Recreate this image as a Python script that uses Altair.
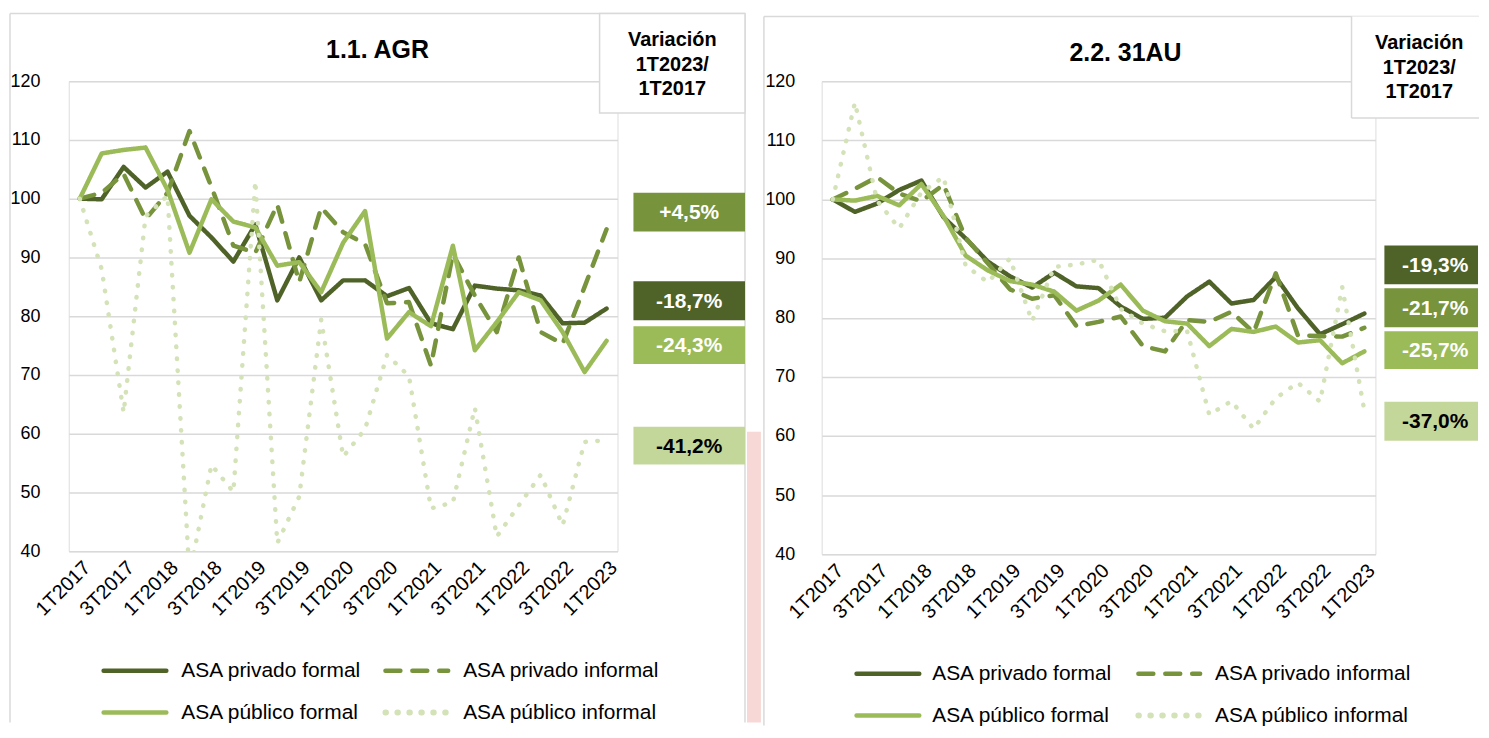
import altair as alt
import pandas as pd

# ---------------- data ----------------
quarters = ["1T2017", "2T2017", "3T2017", "4T2017", "1T2018", "2T2018", "3T2018", "4T2018",
            "1T2019", "2T2019", "3T2019", "4T2019", "1T2020", "2T2020", "3T2020", "4T2020",
            "1T2021", "2T2021", "3T2021", "4T2021", "1T2022", "2T2022", "3T2022", "4T2022",
            "1T2023"]
tick_labels = ["1T2017", "3T2017", "1T2018", "3T2018", "1T2019", "3T2019", "1T2020",
               "3T2020", "1T2021", "3T2021", "1T2022", "3T2022", "1T2023"]
y_ticks = [40, 50, 60, 70, 80, 90, 100, 110, 120]

series_names = ["ASA privado formal", "ASA privado informal", "ASA público formal", "ASA público informal"]

agr_priv_formal = [100, 99.9, 105.4, 101.9, 104.6, 97.1, 93.4, 89.3, 95.6, 82.7, 90.0, 82.7, 86.1,
                   86.1, 83.4, 84.8, 78.8, 77.8, 85.2, 84.7, 84.4, 83.5, 78.8, 78.9, 81.3]
agr_priv_informal = [100, 101.0, 104.2, 96.5, 101.0, 111.5, 102.0, 92.0, 90.8, 99.0, 85.8, 98.5, 94.3,
                     92.3, 82.2, 82.4, 71.6, 90.6, 83.5, 77.3, 90.0, 77.3, 75.3, 85.0, 94.8]
agr_pub_formal = [100, 107.7, 108.3, 108.7, 101.5, 90.8, 99.9, 96.1, 95.1, 88.6, 89.2, 84.1, 92.5,
                  97.9, 76.2, 80.7, 78.3, 92.0, 74.2, 79.0, 84.1, 82.7, 77.3, 70.5, 75.8]
agr_pub_informal = [100, 88.0, 63.6, 97.0, 100.5, 36.0, 54.7, 50.1, 103.0, 41.4, 49.3, 79.4, 56.1,
                    60.8, 73.4, 69.8, 47.3, 48.3, 64.4, 42.5, 47.8, 53.0, 44.4, 58.6, 58.9]

au_priv_formal = [100, 97.9, 99.3, 101.6, 103.2, 97.0, 93.4, 89.5, 87.0, 85.1, 87.6, 85.3, 85.0,
                  81.9, 79.8, 80.0, 83.6, 86.1, 82.4, 83.0, 86.9, 81.6, 77.2, 78.9, 80.7]
au_priv_informal = [100, 101.8, 103.8, 101.0, 99.7, 102.5, 93.5, 89.2, 84.8, 83.2, 83.8, 78.6, 79.3,
                    80.2, 75.2, 74.3, 79.6, 79.3, 81.0, 77.5, 87.5, 77.0, 76.9, 76.8, 78.3]
au_pub_formal = [100, 99.8, 100.6, 99.0, 102.6, 97.2, 90.5, 88.0, 86.2, 85.6, 84.4, 81.2, 82.9,
                 85.6, 81.2, 79.4, 79.0, 75.2, 78.1, 77.6, 78.5, 75.8, 76.2, 72.3, 74.3]
au_pub_informal = [100, 116.4, 99.8, 95.1, 101.2, 103.8, 88.8, 86.0, 90.0, 79.4, 88.6, 89.0, 89.8,
                   81.5, 79.0, 77.7, 77.7, 63.6, 65.9, 61.2, 66.4, 69.0, 65.8, 85.2, 64.3]

panel_titles = ["1.1. AGR", "2.2. 31AU"]
header_lines = ["Variación", "1T2023/", "1T2017"]
agr_variation = ["+4,5%", "-18,7%", "-24,3%", "-41,2%"]
au_variation = ["-19,3%", "-21,7%", "-25,7%", "-37,0%"]

# ---------------- styles ----------------
DARK, MID, LIGHT, PALE = "#4F6228", "#77933C", "#9BBB59", "#D4E2B8"
BOXPALE = "#C4D79B"
GRID = "#D9D9D9"
series_colors = [DARK, MID, LIGHT, PALE]
series_dashes = [[1, 0], [15, 12], [1, 0], [0.5, 11.5]]
series_widths = [4.5, 4.5, 4.5, 6]
FONT = "Liberation Sans"

ONE = pd.DataFrame({"k": [0]})


def vrect(x, x2, y, y2, **kw):
    return alt.Chart(ONE).mark_rect(**kw).encode(
        x=alt.value(x), x2=alt.value(x2), y=alt.value(y), y2=alt.value(y2))


def vrule(x, x2, y, y2, **kw):
    return alt.Chart(ONE).mark_rule(**kw).encode(
        x=alt.value(x), x2=alt.value(x2), y=alt.value(y), y2=alt.value(y2))


def vtext(x, y, text, **kw):
    return alt.Chart(ONE).mark_text(**kw).encode(
        x=alt.value(x), y=alt.value(y), text=alt.value(text))


def make_df(series_values):
    rows = []
    for name, vals in zip(series_names, series_values):
        for q, v in zip(quarters, vals):
            rows.append({"quarter": q, "value": v, "series": name})
    return pd.DataFrame(rows)


def lines_chart(df, label_pad):
    return alt.Chart(df).mark_line(
        strokeCap="round", strokeJoin="round", clip=True
    ).encode(
        x=alt.X("quarter:N", sort=quarters,
                scale=alt.Scale(type="point", padding=0.5, domain=quarters),
                axis=alt.Axis(values=tick_labels, labelAngle=-45, labelFontSize=20,
                              labelColor="#000000", labelPadding=6, domain=False,
                              ticks=False, grid=False, title=None, labelFont=FONT)),
        y=alt.Y("value:Q", scale=alt.Scale(domain=[40, 120], nice=False, zero=False),
                axis=alt.Axis(values=y_ticks, labelFontSize=18, labelColor="#000000",
                              labelPadding=label_pad, domain=False, ticks=False,
                              grid=True, gridColor=GRID, gridWidth=1.5, title=None,
                              labelFont=FONT)),
        color=alt.Color("series:N", scale=alt.Scale(domain=series_names, range=series_colors),
                        legend=None),
        strokeDash=alt.StrokeDash("series:N",
                                  scale=alt.Scale(domain=series_names, range=series_dashes),
                                  legend=None),
        strokeWidth=alt.StrokeWidth("series:N",
                                    scale=alt.Scale(domain=series_names, range=series_widths),
                                    legend=None),
    )


def legend_layers(rows_y, col_x):
    layers = []
    for i, name in enumerate(series_names):
        r, c = divmod(i, 2)
        sx, sx2, tx = col_x[c]
        y = rows_y[r]
        layers.append(vrule(sx, sx2, y, y, stroke=series_colors[i], strokeWidth=series_widths[i],
                            strokeDash=series_dashes[i], strokeCap="round"))
        layers.append(vtext(tx, y, name, align="left", baseline="middle", fontSize=21,
                            color="#000000", font=FONT))
    return layers


def box_layers(labels, colors, text_colors, x, x2, ys, tx):
    layers = []
    for lab, col, tcol, (y, y2) in zip(labels, colors, text_colors, ys):
        layers.append(vrect(x, x2, y, y2, fill=col))
        layers.append(vtext(tx, (y + y2) / 2 + 1, lab, align="center", baseline="middle",
                            fontSize=21, fontWeight="bold", color=tcol, font=FONT))
    return layers


# ---------------- left panel ----------------
df_agr = make_df([agr_priv_formal, agr_priv_informal, agr_pub_formal, agr_pub_informal])
WL, HL = 551, 472

left_layers = [
    vrule(-59, -59, -68, 644, stroke=GRID, strokeWidth=1.5),
    vrule(-59, 679, -68, -68, stroke=GRID, strokeWidth=1.5),
    vrule(679, 679, -68, 644, stroke=GRID, strokeWidth=1.5),
    vrect(681, 695, 352, 644, fill="#F8D8D6"),
    vrect(533, 679, -68, 32, fill="white", stroke=GRID, strokeWidth=1.5),
    lines_chart(df_agr, 29),
    vtext(310, -31, panel_titles[0], align="center", baseline="middle", fontSize=25,
          fontWeight="bold", color="#000000", font=FONT),
]
for j, line in enumerate(header_lines):
    left_layers.append(vtext(606, -41 + 24.5 * j, line, align="center", baseline="middle",
                             fontSize=20, fontWeight="bold", color="#000000", font=FONT))
left_layers += box_layers(agr_variation, [MID, DARK, LIGHT, BOXPALE],
                          ["white", "white", "white", "black"], 567, 679,
                          [(112, 151), (201, 240), (246, 284), (347, 385)], 623)
left_layers += legend_layers([592, 634], [(35, 98, 113), (318, 381, 396)])
left = alt.layer(*left_layers).properties(width=WL, height=HL)

# ---------------- right panel ----------------
df_au = make_df([au_priv_formal, au_priv_informal, au_pub_formal, au_pub_informal])
WR, HR = 556, 475

right_layers = [
    vrule(-58, -58, -65, 647, stroke=GRID, strokeWidth=1.5),
    vrule(-58, 660, -65, -65, stroke=GRID, strokeWidth=1.5),
    vrect(532, 660, -65, 37, fill="white"),
    vrule(532, 532, -65, 37, stroke=GRID, strokeWidth=1.5),
    vrule(532, 660, 37, 37, stroke=GRID, strokeWidth=1.5),
    lines_chart(df_au, 27),
    vtext(305, -28, panel_titles[1], align="center", baseline="middle", fontSize=25,
          fontWeight="bold", color="#000000", font=FONT),
]
for j, line in enumerate(header_lines):
    right_layers.append(vtext(600, -38 + 24.5 * j, line, align="center", baseline="middle",
                              fontSize=20, fontWeight="bold", color="#000000", font=FONT))
right_layers += box_layers(au_variation, [DARK, MID, LIGHT, BOXPALE],
                           ["white", "white", "white", "black"], 565, 659,
                           [(165, 204), (208, 247), (251, 289), (322, 361)], 616)
right_layers += legend_layers([595, 637], [(35, 98, 111), (318, 380, 395)])
right = alt.layer(*right_layers).properties(width=WR, height=HR)

chart = alt.hconcat(left, right, spacing=0).properties(
    padding={"top": 2, "left": 0, "right": 0, "bottom": 0}
).configure_view(stroke=None).configure(font=FONT, background="white")

chart.save("out.html", embed_options={"renderer": "svg", "actions": False})
